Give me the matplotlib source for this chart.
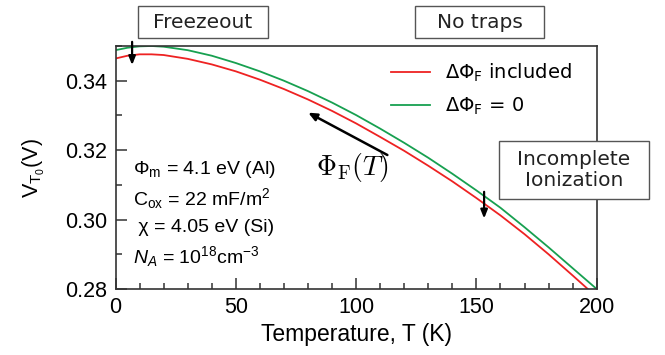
import numpy as np
import matplotlib
matplotlib.use("Agg")
import matplotlib.pyplot as plt
from matplotlib.patches import Rectangle
from matplotlib.ticker import MultipleLocator

plt.rcParams["font.family"] = ["Liberation Sans", "DejaVu Sans"]
plt.rcParams["mathtext.fontset"] = "custom"
plt.rcParams["mathtext.rm"] = "Liberation Sans"
plt.rcParams["mathtext.it"] = "Liberation Sans:italic"
plt.rcParams["mathtext.bf"] = "Liberation Sans:bold"

# threshold voltage vs temperature
temp = [0, 5, 10, 15, 20, 30, 40, 50, 60, 70, 80, 90, 100,
        110, 120, 130, 140, 150, 160, 170, 180, 190, 200]
vt_dphi = [0.3464, 0.3472, 0.3476, 0.3476, 0.3474, 0.3463, 0.3447, 0.3427,
           0.3403, 0.3376, 0.3346, 0.3313, 0.3277, 0.3238, 0.3198, 0.3155,
           0.3110, 0.3062, 0.3012, 0.2958, 0.2900, 0.2839, 0.2777]
vt_nodphi = [0.3488, 0.3495, 0.3499, 0.3500, 0.3498, 0.3488, 0.3472, 0.3451,
             0.3427, 0.3400, 0.3370, 0.3337, 0.3301, 0.3262, 0.3221, 0.3178,
             0.3132, 0.3084, 0.3034, 0.2978, 0.2920, 0.2860, 0.2800]

params = ["Φ$_\\mathrm{m}$ = 4.1 eV (Al)",
          "C$_\\mathrm{ox}$ = 22 mF/m$^\\mathrm{2}$",
          " χ = 4.05 eV (Si)",
          "$N_A$ = 10$^\\mathrm{18}$cm$^\\mathrm{-3}$"]

W, H = 665, 355
fig = plt.figure(figsize=(W / 100, H / 100), dpi=100)
ax = fig.add_axes([115.5 / W, 1 - 289 / H, (596.7 - 115.5) / W, (289 - 46) / H])

ax.plot(temp, vt_dphi, color="#ee2222", lw=1.3, label=r"$\Delta\Phi_\mathrm{F}$ included")
ax.plot(temp, vt_nodphi, color="#17a050", lw=1.3, label=r"$\Delta\Phi_\mathrm{F}$ = 0")

ax.set_xlim(0, 200)
ax.set_ylim(0.28, 0.35)
ax.xaxis.set_major_locator(MultipleLocator(50))
ax.xaxis.set_minor_locator(MultipleLocator(10))
ax.yaxis.set_major_locator(MultipleLocator(0.02))
ax.yaxis.set_minor_locator(MultipleLocator(0.01))
ax.yaxis.set_major_formatter(matplotlib.ticker.FormatStrFormatter("%.2f"))
ax.tick_params(which="both", direction="in", top=False, right=False,
               color="#333333", width=1.1, labelsize=15.5, pad=6)
ax.tick_params(which="major", length=8)
ax.tick_params(which="minor", length=4.5)
for s in ax.spines.values():
    s.set_color("#333333")
    s.set_linewidth(1.2)

ax.set_xlabel("Temperature, T (K)", fontsize=16.5, labelpad=3)
ax.set_ylabel("V$_{\\mathrm{T}_\\mathrm{0}}$(V)", fontsize=15.5, labelpad=13)

leg = ax.legend(loc="upper left", bbox_to_anchor=(391 / W, 1 - 62 / H),
                bbox_transform=fig.transFigure, frameon=False, fontsize=14,
                handlelength=2.0, handletextpad=0.8, labelspacing=0.6,
                borderpad=0, borderaxespad=0)
for t in leg.get_texts():
    t.set_family("DejaVu Sans")
    t.set_math_fontfamily("dejavusans")

# material parameters
for i, s in enumerate(params):
    ax.text(133 / W, 1 - (170 + 29 * i) / H, s, transform=fig.transFigure,
            fontsize=14, ha="left", va="center")

ax.annotate("", xy=(80.1, 0.3308), xytext=(113.0, 0.3186),
            arrowprops=dict(arrowstyle="-|>,head_length=0.5,head_width=0.22",
                            color="black", lw=1.8, shrinkA=0, shrinkB=0))
ax.text(98.5, 0.3150, r"$\Phi_\mathrm{F}(T)$", math_fontfamily="cm",
        fontsize=20, ha="center", va="center")

for tx, y0, y1 in [(6.9, 0.3512, 0.3445), (153.2, 0.3080, 0.3003)]:
    ax.annotate("", xy=(tx, y1), xytext=(tx, y0), annotation_clip=False,
                arrowprops=dict(arrowstyle="-|>,head_length=0.5,head_width=0.2",
                                color="black", lw=1.6, shrinkA=0, shrinkB=0))

# labelled regions
boxes = [(138, 6, 268, 38, "Freezeout"),
         (415, 6, 544, 38, "No traps"),
         (499, 141, 649, 199, "Incomplete\nIonization")]
for x0, y0, x1, y1, s in boxes:
    fig.add_artist(Rectangle((x0 / W, 1 - y1 / H), (x1 - x0) / W, (y1 - y0) / H,
                             transform=fig.transFigure, facecolor="white",
                             edgecolor="#555555", lw=1.0, zorder=5))
    fig.text((x0 + x1) / 2 / W, 1 - (y0 + y1) / 2 / H, s, family="DejaVu Sans",
             fontsize=14.5, ha="center", va="center", linespacing=1.15,
             color="#222222", zorder=6)

fig.savefig("out.png", dpi=100)
